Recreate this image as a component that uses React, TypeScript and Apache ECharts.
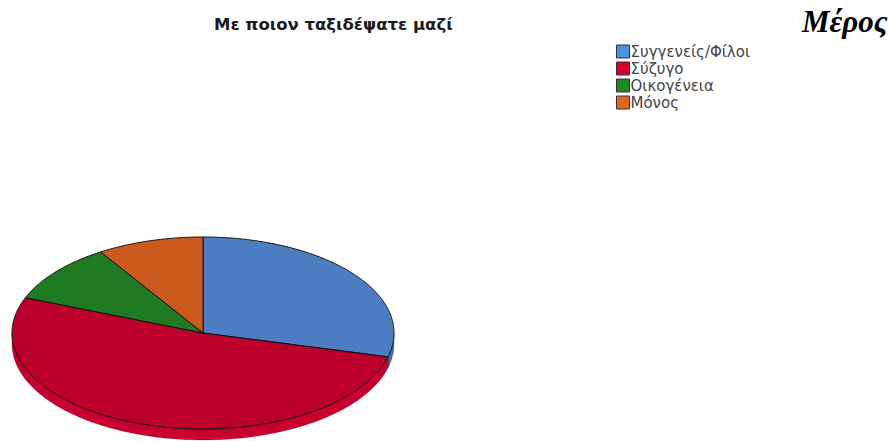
import React, { useEffect, useRef } from "react";
import * as echarts from "echarts";

const categories = ["Συγγενείς/Φίλοι", "Σύζυγο", "Οικογένεια", "Μόνος"];
const values = [29, 52, 10, 9];
const topColors = ["#4d7ec2", "#bb002c", "#207a22", "#cc5a1e"];
const rimColors = ["#3f6aa6", "#c8002f", "#1a6a1c", "#b04c18"];
const legendColors = ["#4f8fe6", "#d4002e", "#1f8a24", "#e0661e"];

const CX = 203;
const CY = 333;
const RX = 191;
const RY = 96;
const DEPTH = 11;

function pt(theta: number, dy = 0): number[] {
  const r = (theta * Math.PI) / 180;
  return [CX + RX * Math.sin(r), CY - RY * Math.cos(r) + dy];
}

export default function App() {
  const ref = useRef<HTMLDivElement>(null);
  useEffect(() => {
    document.body.style.margin = "0";
    if (!ref.current) return;
    const chart = echarts.init(ref.current, null, { renderer: "svg" });
    const total = values.reduce((a, b) => a + b, 0);
    const starts: number[] = [];
    let acc = 0;
    values.forEach((v) => {
      starts.push((acc / total) * 360);
      acc += v;
    });
    chart.setOption({
      animation: false,
      title: {
        text: "Με ποιον ταξιδέψατε μαζί",
        left: 209,
        top: 11,
        textStyle: {
          fontFamily: "DejaVu Sans",
          fontSize: 16.5,
          fontWeight: "bold",
          color: "#1a1a1a",
        },
      },
      legend: {
        orient: "vertical",
        left: 611,
        top: 39,
        itemWidth: 13,
        itemHeight: 13,
        itemGap: 2,
        icon: "rect",
        data: categories,
        textStyle: {
          fontFamily: "DejaVu Sans",
          fontSize: 15,
          color: "#444",
          padding: [0, 0, 0, -4],
        },
        itemStyle: { borderColor: "#333", borderWidth: 1 },
      },
      graphic: [
        {
          type: "text",
          left: 802,
          top: 6,
          style: {
            text: "Μέρος",
            font: "italic bold 31px 'Liberation Serif'",
            fill: "#000",
          },
        },
      ],
      series: [
        {
          type: "pie",
          radius: [0, 0],
          center: [-100, -100],
          silent: true,
          label: { show: false },
          labelLine: { show: false },
          data: categories.map((c, i) => ({
            name: c,
            value: values[i],
            itemStyle: { color: legendColors[i] },
          })),
        },
        {
          type: "custom",
          coordinateSystem: "none",
          silent: true,
          data: values,
          renderItem: (params: any, api: any) => {
            const i = params.dataIndex;
            const v = api.value(0);
            const s = starts[i];
            const e = s + (v / total) * 360;
            const children: any[] = [];
            const a = Math.max(s, 90);
            const b = Math.min(e, 270);
            if (b > a) {
              const rim: number[][] = [];
              for (let t = a; t <= b; t += 1) rim.push(pt(t));
              rim.push(pt(b));
              for (let t = b; t >= a; t -= 1) rim.push(pt(t, DEPTH));
              rim.push(pt(a, DEPTH));
              children.push({
                type: "polygon",
                shape: { points: rim },
                style: {
                  fill: rimColors[i],
                  stroke: "rgba(0,0,0,0.35)",
                  lineWidth: 0.6,
                },
              });
            }
            const top: number[][] = [[CX, CY]];
            for (let t = s; t <= e; t += 0.5) top.push(pt(t));
            top.push(pt(e));
            children.push({
              type: "polygon",
              shape: { points: top },
              style: {
                fill: topColors[i],
                stroke: "#111",
                lineWidth: 1,
              },
            });
            return { type: "group", children };
          },
        },
      ],
    });
    return () => chart.dispose();
  }, []);
  return <div ref={ref} style={{ width: 894, height: 441 }} />;
}
